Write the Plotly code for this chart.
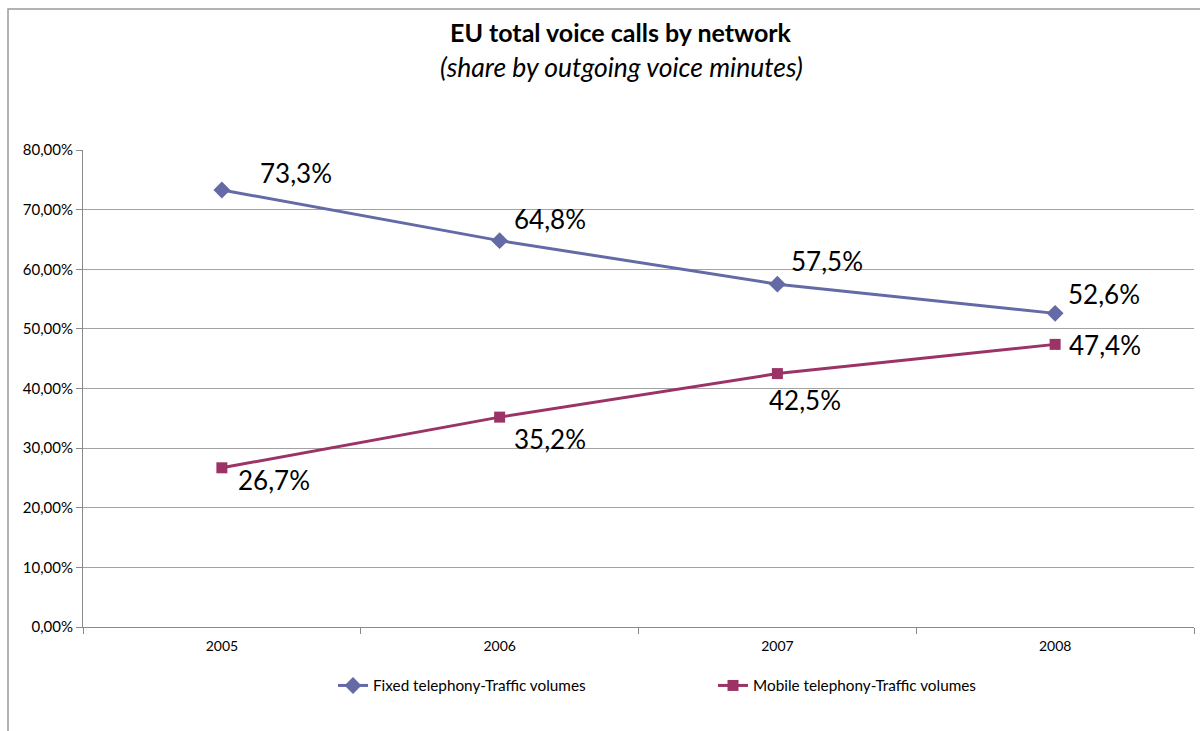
import plotly.graph_objects as go

years = ["2005", "2006", "2007", "2008"]
fixed = [0.733, 0.648, 0.575, 0.526]
mobile = [0.267, 0.352, 0.425, 0.474]
fixed_labels = ["73,3%", "64,8%", "57,5%", "52,6%"]
mobile_labels = ["26,7%", "35,2%", "42,5%", "47,4%"]
fixed_name = "Fixed telephony-Traffic volumes"
mobile_name = "Mobile telephony-Traffic volumes"

FONT = "Lato, Calibri, Carlito, sans-serif"
C_FIXED = "#636aa6"
C_MOBILE = "#9b3366"
GRID = "#a3a3a3"

W, H = 1200, 731
L, R, T, B = 83, 6, 150, 104

fig = go.Figure()
fig.add_trace(go.Scatter(x=years, y=fixed, name=fixed_name, mode="lines+markers",
                         line=dict(color=C_FIXED, width=3),
                         marker=dict(symbol="diamond", size=13, color=C_FIXED)))
fig.add_trace(go.Scatter(x=years, y=mobile, name=mobile_name, mode="lines+markers",
                         line=dict(color=C_MOBILE, width=3),
                         marker=dict(symbol="square", size=11, color=C_MOBILE)))

# data labels (offsets relative to each point; x uses category index)
fixed_off = [(36, 17), (12, 22), (12, 23), (11, 19)]
mobile_off = [(14, -12), (12, -22), (-10, -26), (12, -1)]
for i, (yv, lab) in enumerate(zip(fixed, fixed_labels)):
    dx, dy = fixed_off[i]
    fig.add_annotation(x=i, y=yv, text=lab, showarrow=False, xanchor="left",
                       yanchor="middle", xshift=dx, yshift=dy,
                       font=dict(family=FONT, size=26, color="#000000"))
for i, (yv, lab) in enumerate(zip(mobile, mobile_labels)):
    dx, dy = mobile_off[i]
    fig.add_annotation(x=i, y=yv, text=lab, showarrow=False, xanchor="left",
                       yanchor="middle", xshift=dx, yshift=dy,
                       font=dict(family=FONT, size=26, color="#000000"))

pw = W - L - R
ph = H - T - B
def px(xp):
    return (xp - L) / pw
def py(yp):
    return (H - B - yp) / ph

# title & subtitle
fig.add_annotation(xref="paper", yref="paper", x=px(621), y=py(32), text="<b>EU total voice calls by network</b>",
                   showarrow=False, xanchor="center", yanchor="middle",
                   font=dict(family=FONT, size=25, color="#000000"))
fig.add_annotation(xref="paper", yref="paper", x=px(621), y=py(67), text="<i>(share by outgoing voice minutes)</i>",
                   showarrow=False, xanchor="center", yanchor="middle",
                   font=dict(family=FONT, size=26.5, color="#000000"))

# chart border
fig.add_shape(type="rect", xref="paper", yref="paper", x0=px(8), x1=px(1300), y0=py(900), y1=py(9),
              line=dict(color="#9a9a9a", width=1.5), fillcolor="rgba(0,0,0,0)", layer="below")

fig.update_layout(
    width=W, height=H,
    margin=dict(l=L, r=R, t=T, b=B, autoexpand=False),
    paper_bgcolor="white", plot_bgcolor="white",
    separators=", ",
    font=dict(family=FONT, size=14, color="#000000"),
    showlegend=True,
    legend=dict(orientation="h", x=px(333), y=py(669), xanchor="left", yanchor="top",
                font=dict(family=FONT, size=15.3, color="#000000"),
                entrywidth=335, entrywidthmode="pixels", itemwidth=30,
                bgcolor="rgba(0,0,0,0)"),
)
fig.update_xaxes(type="category", range=[-0.5, 3.5], showgrid=False,
                 showline=True, linecolor="#8a8a8a", linewidth=1,
                 ticks="outside", tickson="boundaries", ticklen=6, tickcolor="#8a8a8a",
                 tickfont=dict(family=FONT, size=14), ticklabelstandoff=6)
fig.update_yaxes(range=[0, 0.8], dtick=0.1, tickformat=".2%",
                 showgrid=True, gridcolor=GRID, gridwidth=1,
                 showline=True, linecolor="#8a8a8a", linewidth=1,
                 ticks="outside", ticklen=6, tickcolor="#8a8a8a",
                 tickfont=dict(family=FONT, size=15), zeroline=False)

fig.write_html("out.html", post_script="document.body.style.margin='0';",
               config={"displayModeBar": False})
